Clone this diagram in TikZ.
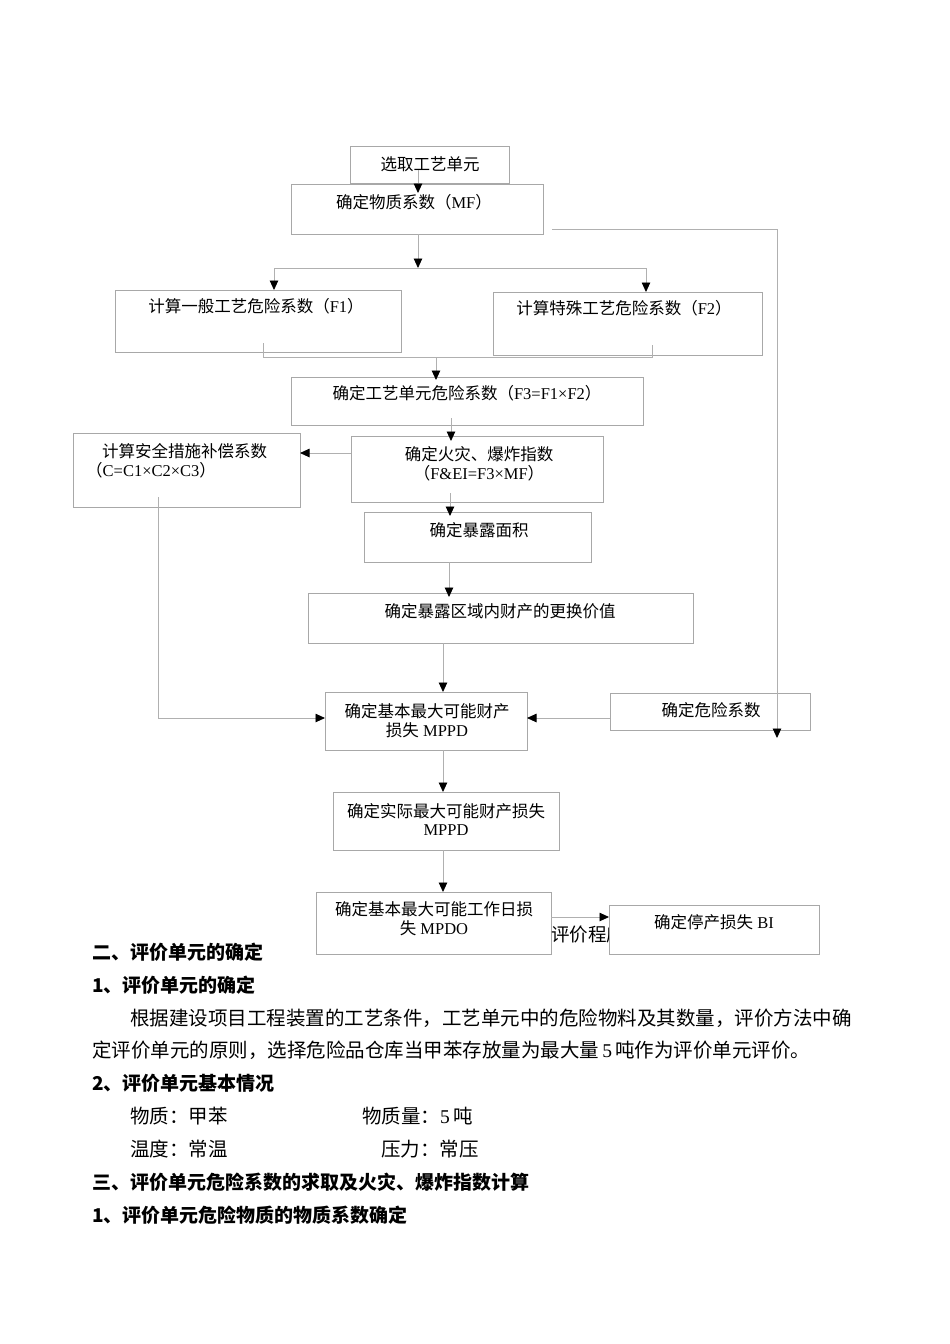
\documentclass[tikz,border=0pt]{standalone}
\usepackage{fontspec}
\setmainfont{Noto Sans CJK SC}
\newfontfamily\lat{Liberation Serif}
\usetikzlibrary{arrows.meta,calc}
\definecolor{boxgray}{HTML}{A8A8A8}
\definecolor{linegray}{HTML}{B0B0B0}
\tikzset{
  box/.style={draw=boxgray, line width=0.9pt, fill=white, inner sep=0pt, outer sep=0pt, anchor=north west},
  txt/.style={font=\fontsize{16.5}{19}\selectfont, inner sep=0pt, text height=0.82em, text depth=0.18em, yshift=-3.5pt},
  ln/.style={draw=linegray, line width=0.9pt},
  arr/.style={ln, -{Triangle[length=9.5pt,width=8.5pt,color=black]}},
  bodytxt/.style={font=\fontsize{19.5}{22}\selectfont, inner sep=0pt, anchor=west, text height=0.82em, text depth=0.18em, yshift=-4pt},
  headtxt/.style={font=\bfseries\fontsize{19}{22}\selectfont, inner sep=0pt, anchor=west, text height=0.82em, text depth=0.18em, yshift=-4pt},
}
\begin{document}
\begin{tikzpicture}[x=1pt,y=-1pt]
\useasboundingbox[fill=white] (0,0) rectangle (950,1344);

% ---------- boxes ----------
\node[box, minimum width=159pt, minimum height=37pt] (b1) at (350,146) {};
\node[box, minimum width=252pt, minimum height=50pt] (b2) at (291,184) {};
\node[box, minimum width=286pt, minimum height=62pt] (f1) at (115,290) {};
\node[box, minimum width=269pt, minimum height=63pt] (f2) at (493,292) {};
\node[box, minimum width=352pt, minimum height=48pt] (f3) at (291,377) {};
\node[box, minimum width=252pt, minimum height=66pt] (fei) at (351,436) {};
\node[box, minimum width=227pt, minimum height=74pt] (cc) at (73,433) {};
\node[box, minimum width=227pt, minimum height=50pt] (exa) at (364,512) {};
\node[box, minimum width=385pt, minimum height=50pt] (rv) at (308,593) {};
\node[box, minimum width=202pt, minimum height=58pt] (mp) at (325,692) {};
\node[box, minimum width=200pt, minimum height=37pt] (dh) at (610,693) {};
\node[box, minimum width=226pt, minimum height=58pt] (am) at (333,792) {};
\node[box, minimum width=235pt, minimum height=62pt] (md) at (316,892) {};

% partly hidden caption behind the BI box
\node[font=\fontsize{18.5}{20}\selectfont, inner sep=0pt, anchor=west, yshift=-3pt] (cap) at (551,931) {评价程序图};
\node[box, minimum width=210pt, minimum height=49pt] (bi) at (609,905) {};

% ---------- box texts ----------
\node[txt] (t1) at (430,164) {选取工艺单元};
\node[txt] (t2) at (414,202) {确定物质系数（{\lat MF}）};
\node[txt] (tf1) at (256,306) {计算一般工艺危险系数（{\lat F1}）};
\node[txt] (tf2) at (624,308) {计算特殊工艺危险系数（{\lat F2}）};
\node[txt] (tf3) at (467,393) {确定工艺单元危险系数（{\lat F3=F1×F2}）};
\node[txt] (tfa) at (479,454) {确定火灾、爆炸指数};
\node[txt] (tfb) at (479,473) {（{\lat F\&EI=F3×MF}）};
\node[txt, anchor=west] (tca) at (102,451) {计算安全措施补偿系数};
\node[txt, anchor=west] (tcb) at (86,470) {（{\lat C=C1×C2×C3}）};
\node[txt] (tex) at (479,530) {确定暴露面积};
\node[txt] (trv) at (500,611) {确定暴露区域内财产的更换价值};
\node[txt] (tma) at (427,711) {确定基本最大可能财产};
\node[txt] (tmb) at (427,730) {损失{\lat\ MPPD}};
\node[txt] (tdh) at (711,710) {确定危险系数};
\node[txt] (taa) at (446,811) {确定实际最大可能财产损失};
\node[txt] (tab) at (446,829) {{\lat MPPD}};
\node[txt] (tda) at (434,909) {确定基本最大可能工作日损};
\node[txt] (tdb) at (434,928) {失{\lat\ MPDO}};
\node[txt] (tbi) at (714,922) {确定停产损失{\lat\ BI}};

% ---------- connectors ----------
\coordinate (sp) at (418,268);
\coordinate (spL) at (274,268);
\coordinate (spR) at (646,268);
\draw[arr] ([xshift=-11.5pt,yshift=13pt]b1.south) -- ([xshift=-11.5pt,yshift=-9pt]b1.south |- b2.north);
\draw[arr] ([xshift=1pt]b2.south) -- (sp);
\draw[ln] (spL) -- (spR);
\draw[arr] (spL) -- (spL |- f1.north);
\draw[arr] (spR) -- (spR |- f2.north);

\coordinate (jL) at (263,343);
\coordinate (jR) at (652,345);
\coordinate (jM) at (436,357);
\draw[ln] (jL) -- (jL |- jM) -- (jR |- jM) -- (jR);
\draw[arr] (jM) -- ([yshift=-3pt]jM |- f3.north);

\coordinate (c3) at (451,418);
\draw[arr] (c3) -- ([yshift=-5pt]c3 |- fei.north);
\coordinate (c4) at (450,493);
\draw[arr] (c4) -- ([yshift=-4pt]c4 |- exa.north);
\coordinate (c5) at (449,562);
\draw[arr] (c5) -- ([yshift=-4pt]c5 |- rv.north);
\coordinate (c6) at (443,643);
\draw[arr] (c6) -- (c6 |- mp.north);
\coordinate (c7) at (443,750);
\draw[arr] (c7) -- (c7 |- am.north);
\coordinate (c8) at (443,850);
\draw[arr] (c8) -- (c8 |- md.north);

\coordinate (fy) at (351,453);
\draw[arr] (fy) -- (fy -| cc.east);

\coordinate (cv) at (158,497);
\coordinate (hy) at (158,718);
\draw[arr] (cv) -- (hy) -- (hy -| mp.west);
\draw[arr] (hy -| dh.west) -- (hy -| mp.east);

\coordinate (r0) at (552,229);
\coordinate (r1) at (777,229);
\coordinate (r2) at (777,738);
\draw[arr] (r0) -- (r1) -- (r2);

\coordinate (by) at (551,917);
\draw[arr] (by) -- (by -| bi.west);

% ---------- body text ----------
\node[headtxt] (h1) at (92,952) {二、评价单元的确定};
\node[headtxt] (h2) at (92,985) {1、评价单元的确定};
\node[bodytxt] (p1) at (130,1018) {根据建设项目工程装置的工艺条件，工艺单元中的危险物料及其数量，评价方法中确};
\node[bodytxt] (p2) at (92,1050) {定评价单元的原则，选择危险品仓库当甲苯存放量为最大量{\lat\,5\,}吨作为评价单元评价。};
\node[headtxt] (h3) at (92,1083) {2、评价单元基本情况};
\node[bodytxt] (i1) at (130,1116) {物质：甲苯};
\node[bodytxt] (i2) at (362,1116) {物质量：{\lat 5\,}吨};
\node[bodytxt] (i3) at (130,1149) {温度：常温};
\node[bodytxt] (i4) at (381,1149) {压力：常压};
\node[headtxt] (h4) at (92,1182) {三、评价单元危险系数的求取及火灾、爆炸指数计算};
\node[headtxt] (h5) at (92,1215) {1、评价单元危险物质的物质系数确定};
\end{tikzpicture}
\end{document}
